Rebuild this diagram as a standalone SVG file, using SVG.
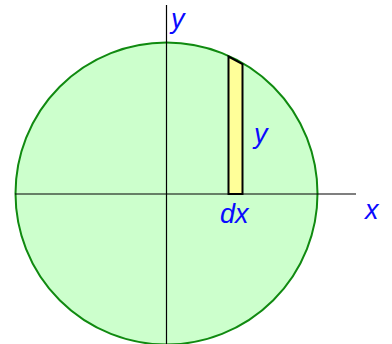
<svg xmlns="http://www.w3.org/2000/svg" width="392" height="344" viewBox="0 0 392 344">
<style>
.lbl{font-family:"Liberation Sans",Arial,sans-serif;font-style:italic;font-size:27px;fill:#0a0aff}
.axis{stroke:#000;stroke-width:1.2;fill:none}
</style>
<rect width="392" height="344" fill="#fff"/>
<g id="circle">
<circle cx="166.5" cy="193.5" r="151" fill="#ccffcc" stroke="#108a10" stroke-width="2"/>
</g>
<g id="strip">
<polygon points="228.5,56.5 242.5,64 242.5,194 228.5,194" fill="#ffff99" stroke="#000" stroke-width="2" stroke-linejoin="miter"/>
</g>
<g id="connectors">
<line class="axis" x1="15" y1="194" x2="356" y2="194"/>
<line class="axis" x1="166.5" y1="5" x2="166.5" y2="344"/>
</g>
<g id="labels">
<text class="lbl" x="171" y="28">y</text>
<text class="lbl" x="254" y="142.5">y</text>
<text class="lbl" x="220" y="223">dx</text>
<text class="lbl" x="365" y="218.5">x</text>
</g>
</svg>
